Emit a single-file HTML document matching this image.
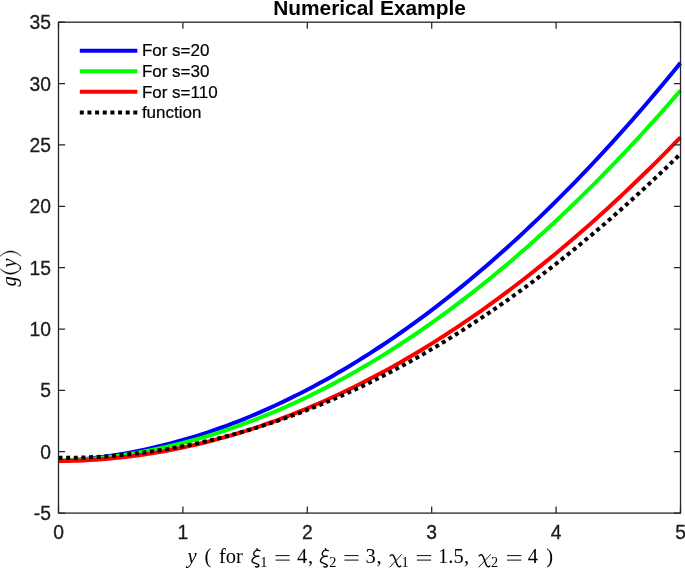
<!DOCTYPE html>
<html><head><meta charset="utf-8"><title>Numerical Example</title>
<style>html,body{margin:0;padding:0;background:#fff}svg{display:block;will-change:transform;font-family:"Liberation Sans",sans-serif}.ser text{font-family:"Liberation Serif",serif}</style></head>
<body>
<svg width="685" height="569" viewBox="0 0 685 569">
<rect x="0" y="0" width="685" height="569" fill="#ffffff"/>
<path d="M58.50 461.02 L64.72 460.67 L70.94 460.24 L77.16 459.74 L83.38 459.17 L89.60 458.52 L95.82 457.80 L102.04 457.01 L108.26 456.14 L114.48 455.20 L120.70 454.19 L126.92 453.10 L133.14 451.94 L139.36 450.71 L145.58 449.41 L151.80 448.03 L158.02 446.57 L164.24 445.05 L170.46 443.45 L176.68 441.77 L182.90 440.03 L189.12 438.21 L195.34 436.32 L201.56 434.35 L207.78 432.31 L214.00 430.20 L220.22 428.01 L226.44 425.76 L232.66 423.42 L238.88 421.02 L245.10 418.54 L251.32 415.99 L257.54 413.36 L263.76 410.66 L269.98 407.89 L276.20 405.04 L282.42 402.13 L288.64 399.13 L294.86 396.07 L301.08 392.93 L307.30 389.72 L313.52 386.43 L319.74 383.08 L325.96 379.64 L332.18 376.14 L338.40 372.56 L344.62 368.91 L350.84 365.18 L357.06 361.39 L363.28 357.52 L369.50 353.57 L375.72 349.55 L381.94 345.46 L388.16 341.30 L394.38 337.06 L400.60 332.75 L406.82 328.36 L413.04 323.91 L419.26 319.37 L425.48 314.77 L431.70 310.09 L437.92 305.34 L444.14 300.52 L450.36 295.62 L456.58 290.65 L462.80 285.61 L469.02 280.49 L475.24 275.30 L481.46 270.03 L487.68 264.70 L493.90 259.29 L500.12 253.80 L506.34 248.25 L512.56 242.62 L518.78 236.91 L525.00 231.13 L531.22 225.28 L537.44 219.36 L543.66 213.36 L549.88 207.29 L556.10 201.15 L562.32 194.93 L568.54 188.64 L574.76 182.28 L580.98 175.84 L587.20 169.33 L593.42 162.75 L599.64 156.10 L605.86 149.37 L612.08 142.56 L618.30 135.69 L624.52 128.74 L630.74 121.71 L636.96 114.62 L643.18 107.45 L649.40 100.21 L655.62 92.89 L661.84 85.50 L668.06 78.04 L674.28 70.50 L680.50 62.89" fill="none" stroke="#0000ff" stroke-width="4" stroke-linejoin="round"/>
<path d="M58.50 460.83 L64.72 460.60 L70.94 460.30 L77.16 459.93 L83.38 459.50 L89.60 458.99 L95.82 458.41 L102.04 457.76 L108.26 457.04 L114.48 456.25 L120.70 455.38 L126.92 454.45 L133.14 453.45 L139.36 452.38 L145.58 451.24 L151.80 450.03 L158.02 448.75 L164.24 447.40 L170.46 445.97 L176.68 444.48 L182.90 442.92 L189.12 441.29 L195.34 439.58 L201.56 437.81 L207.78 435.97 L214.00 434.05 L220.22 432.07 L226.44 430.02 L232.66 427.89 L238.88 425.70 L245.10 423.43 L251.32 421.10 L257.54 418.69 L263.76 416.22 L269.98 413.67 L276.20 411.06 L282.42 408.37 L288.64 405.62 L294.86 402.79 L301.08 399.90 L307.30 396.93 L313.52 393.89 L319.74 390.79 L325.96 387.61 L332.18 384.36 L338.40 381.04 L344.62 377.66 L350.84 374.20 L357.06 370.67 L363.28 367.07 L369.50 363.41 L375.72 359.67 L381.94 355.86 L388.16 351.98 L394.38 348.03 L400.60 344.01 L406.82 339.92 L413.04 335.76 L419.26 331.53 L425.48 327.23 L431.70 322.86 L437.92 318.42 L444.14 313.91 L450.36 309.33 L456.58 304.68 L462.80 299.96 L469.02 295.17 L475.24 290.31 L481.46 285.37 L487.68 280.37 L493.90 275.30 L500.12 270.16 L506.34 264.95 L512.56 259.66 L518.78 254.31 L525.00 248.89 L531.22 243.39 L537.44 237.83 L543.66 232.20 L549.88 226.49 L556.10 220.72 L562.32 214.88 L568.54 208.96 L574.76 202.98 L580.98 196.92 L587.20 190.80 L593.42 184.60 L599.64 178.34 L605.86 172.00 L612.08 165.60 L618.30 159.12 L624.52 152.57 L630.74 145.96 L636.96 139.27 L643.18 132.51 L649.40 125.69 L655.62 118.79 L661.84 111.82 L668.06 104.79 L674.28 97.68 L680.50 90.50" fill="none" stroke="#00ff00" stroke-width="4" stroke-linejoin="round"/>
<path d="M58.50 461.06 L64.72 460.99 L70.94 460.86 L77.16 460.66 L83.38 460.40 L89.60 460.07 L95.82 459.68 L102.04 459.22 L108.26 458.71 L114.48 458.12 L120.70 457.48 L126.92 456.77 L133.14 455.99 L139.36 455.15 L145.58 454.25 L151.80 453.28 L158.02 452.25 L164.24 451.16 L170.46 450.00 L176.68 448.78 L182.90 447.49 L189.12 446.14 L195.34 444.73 L201.56 443.25 L207.78 441.71 L214.00 440.10 L220.22 438.43 L226.44 436.70 L232.66 434.90 L238.88 433.04 L245.10 431.11 L251.32 429.12 L257.54 427.06 L263.76 424.95 L269.98 422.76 L276.20 420.52 L282.42 418.21 L288.64 415.84 L294.86 413.40 L301.08 410.90 L307.30 408.33 L313.52 405.70 L319.74 403.01 L325.96 400.25 L332.18 397.43 L338.40 394.54 L344.62 391.59 L350.84 388.58 L357.06 385.50 L363.28 382.36 L369.50 379.15 L375.72 375.88 L381.94 372.55 L388.16 369.15 L394.38 365.69 L400.60 362.17 L406.82 358.58 L413.04 354.92 L419.26 351.21 L425.48 347.43 L431.70 343.58 L437.92 339.67 L444.14 335.70 L450.36 331.66 L456.58 327.56 L462.80 323.39 L469.02 319.17 L475.24 314.87 L481.46 310.52 L487.68 306.09 L493.90 301.61 L500.12 297.06 L506.34 292.45 L512.56 287.77 L518.78 283.03 L525.00 278.23 L531.22 273.36 L537.44 268.42 L543.66 263.43 L549.88 258.37 L556.10 253.24 L562.32 248.05 L568.54 242.80 L574.76 237.48 L580.98 232.10 L587.20 226.66 L593.42 221.15 L599.64 215.58 L605.86 209.94 L612.08 204.24 L618.30 198.48 L624.52 192.65 L630.74 186.76 L636.96 180.80 L643.18 174.78 L649.40 168.70 L655.62 162.55 L661.84 156.34 L668.06 150.06 L674.28 143.72 L680.50 137.32" fill="none" stroke="#ff0000" stroke-width="4" stroke-linejoin="round"/>
<path d="M58.50 457.86 L64.72 457.86 L70.94 457.80 L77.16 457.68 L83.38 457.49 L89.60 457.25 L95.82 456.94 L102.04 456.57 L108.26 456.14 L114.48 455.65 L120.70 455.09 L126.92 454.48 L133.14 453.80 L139.36 453.07 L145.58 452.27 L151.80 451.41 L158.02 450.49 L164.24 449.50 L170.46 448.46 L176.68 447.35 L182.90 446.18 L189.12 444.96 L195.34 443.67 L201.56 442.31 L207.78 440.90 L214.00 439.43 L220.22 437.89 L226.44 436.29 L232.66 434.63 L238.88 432.91 L245.10 431.13 L251.32 429.29 L257.54 427.39 L263.76 425.42 L269.98 423.39 L276.20 421.30 L282.42 419.15 L288.64 416.94 L294.86 414.67 L301.08 412.34 L307.30 409.94 L313.52 407.48 L319.74 404.97 L325.96 402.39 L332.18 399.74 L338.40 397.04 L344.62 394.28 L350.84 391.45 L357.06 388.57 L363.28 385.62 L369.50 382.61 L375.72 379.54 L381.94 376.40 L388.16 373.21 L394.38 369.95 L400.60 366.64 L406.82 363.26 L413.04 359.82 L419.26 356.32 L425.48 352.76 L431.70 349.13 L437.92 345.45 L444.14 341.70 L450.36 337.89 L456.58 334.02 L462.80 330.09 L469.02 326.10 L475.24 322.05 L481.46 317.93 L487.68 313.76 L493.90 309.52 L500.12 305.22 L506.34 300.86 L512.56 296.44 L518.78 291.95 L525.00 287.41 L531.22 282.80 L537.44 278.13 L543.66 273.40 L549.88 268.61 L556.10 263.76 L562.32 258.85 L568.54 253.87 L574.76 248.84 L580.98 243.74 L587.20 238.58 L593.42 233.36 L599.64 228.08 L605.86 222.73 L612.08 217.33 L618.30 211.86 L624.52 206.34 L630.74 200.75 L636.96 195.10 L643.18 189.39 L649.40 183.61 L655.62 177.78 L661.84 171.88 L668.06 165.92 L674.28 159.91 L680.50 153.82" fill="none" stroke="#000000" stroke-width="4" stroke-dasharray="4 3.65" stroke-linejoin="round"/>
<rect x="58.50" y="22.20" width="622.00" height="490.90" fill="none" stroke="#262626" stroke-width="1.3"/>
<path d="M58.50 513.10V506.50M58.50 22.20V28.80M182.90 513.10V506.50M182.90 22.20V28.80M307.30 513.10V506.50M307.30 22.20V28.80M431.70 513.10V506.50M431.70 22.20V28.80M556.10 513.10V506.50M556.10 22.20V28.80M680.50 513.10V506.50M680.50 22.20V28.80M58.50 513.10H65.10M680.50 513.10H673.90M58.50 451.74H65.10M680.50 451.74H673.90M58.50 390.38H65.10M680.50 390.38H673.90M58.50 329.01H65.10M680.50 329.01H673.90M58.50 267.65H65.10M680.50 267.65H673.90M58.50 206.29H65.10M680.50 206.29H673.90M58.50 144.92H65.10M680.50 144.92H673.90M58.50 83.56H65.10M680.50 83.56H673.90M58.50 22.20H65.10M680.50 22.20H673.90" fill="none" stroke="#262626" stroke-width="1.25"/>
<g font-size="19.3" fill="#1c1c1c" stroke="#1c1c1c" stroke-width="0.3">
<text x="58.50" y="538.7" text-anchor="middle">0</text>
<text x="182.90" y="538.7" text-anchor="middle">1</text>
<text x="307.30" y="538.7" text-anchor="middle">2</text>
<text x="431.70" y="538.7" text-anchor="middle">3</text>
<text x="556.10" y="538.7" text-anchor="middle">4</text>
<text x="680.50" y="538.7" text-anchor="middle">5</text>
<text x="50.9" y="520.10" text-anchor="end">-5</text>
<text x="50.9" y="458.74" text-anchor="end">0</text>
<text x="50.9" y="397.38" text-anchor="end">5</text>
<text x="50.9" y="336.01" text-anchor="end">10</text>
<text x="50.9" y="274.65" text-anchor="end">15</text>
<text x="50.9" y="213.29" text-anchor="end">20</text>
<text x="50.9" y="151.92" text-anchor="end">25</text>
<text x="50.9" y="90.56" text-anchor="end">30</text>
<text x="50.9" y="29.20" text-anchor="end">35</text>
</g>
<text x="369.5" y="14.8" text-anchor="middle" font-size="20.9" font-weight="bold" fill="#000">Numerical Example</text>
<path d="M79.8 50.65H137.3" stroke="#0000ff" stroke-width="4" fill="none"/>
<path d="M79.8 71.20H137.3" stroke="#00ff00" stroke-width="4" fill="none"/>
<path d="M79.8 91.80H137.3" stroke="#ff0000" stroke-width="4" fill="none"/>
<path d="M79.8 112.50H137.3" stroke="#000" stroke-width="4" stroke-dasharray="4 3.65" fill="none"/>
<g font-size="17" fill="#000" stroke="#000" stroke-width="0.2">
<text x="141.9" y="56.35">For s=20</text>
<text x="141.9" y="76.90">For s=30</text>
<text x="141.9" y="97.50">For s=110</text>
<text x="141.9" y="118.20">function</text>
</g>
<g class="ser" font-size="20.5" fill="#000">
<text x="187.4" y="563.1" font-style="italic">y</text>
<text x="204.6" y="563.1">(</text>
<text x="219.0" y="563.1">for</text>
<path transform="translate(251.5 563.1)" d="M5.5 -14.4L6.3 -12.8M8.3 -12.4C6.8 -13 5.1 -13.2 4 -12.4C2.4 -11.2 1.8 -9 2.8 -7.7C3.7 -6.7 5.5 -6.9 7.3 -6.9M7.3 -6.9C4.3 -7 1.9 -5.7 0.8 -3.5C-0.1 -1.5 1.3 -0.5 3.9 0.2C6.1 0.8 7.7 1.5 7.4 2.8C7.1 4 5.3 4.2 3.9 3.6" fill="none" stroke="#000" stroke-width="1.35" stroke-linecap="round" stroke-linejoin="round"/>
<text x="260.2" y="566.6" font-size="14.3">1</text>
<path d="M275.5 555.6h14.2M275.5 560.1h14.2" fill="none" stroke="#000" stroke-width="0.95"/>
<text x="296.9" y="563.1">4</text>
<text x="308.1" y="563.1">,</text>
<path transform="translate(319.9 563.1)" d="M5.5 -14.4L6.3 -12.8M8.3 -12.4C6.8 -13 5.1 -13.2 4 -12.4C2.4 -11.2 1.8 -9 2.8 -7.7C3.7 -6.7 5.5 -6.9 7.3 -6.9M7.3 -6.9C4.3 -7 1.9 -5.7 0.8 -3.5C-0.1 -1.5 1.3 -0.5 3.9 0.2C6.1 0.8 7.7 1.5 7.4 2.8C7.1 4 5.3 4.2 3.9 3.6" fill="none" stroke="#000" stroke-width="1.35" stroke-linecap="round" stroke-linejoin="round"/>
<text x="329.3" y="566.6" font-size="14.3">2</text>
<path d="M344.4 555.6h14.2M344.4 560.1h14.2" fill="none" stroke="#000" stroke-width="0.95"/>
<text x="365.6" y="563.1">3</text>
<text x="376.6" y="563.1">,</text>
<path transform="translate(390.0 563.1)" d="M0.2 -7.3C0.9 -8.3 2.2 -8.6 3.2 -7.8C4.3 -6.9 4.9 -4.6 5.7 -2.1C6.5 0.4 7.3 2.3 8.2 3.2C9 3.9 10.2 3.8 10.7 2.9" fill="none" stroke="#000" stroke-width="1.45" stroke-linecap="round" stroke-linejoin="round"/>
<path transform="translate(390.0 563.1)" d="M11.6 -8.6L0 3.9" fill="none" stroke="#000" stroke-width="0.9" stroke-linecap="round"/>
<text x="401.5" y="566.6" font-size="14.3">1</text>
<path d="M416.9 555.6h14.2M416.9 560.1h14.2" fill="none" stroke="#000" stroke-width="0.95"/>
<text x="438.1" y="563.1">1.5</text>
<text x="463.9" y="563.1">,</text>
<path transform="translate(479.0 563.1)" d="M0.2 -7.3C0.9 -8.3 2.2 -8.6 3.2 -7.8C4.3 -6.9 4.9 -4.6 5.7 -2.1C6.5 0.4 7.3 2.3 8.2 3.2C9 3.9 10.2 3.8 10.7 2.9" fill="none" stroke="#000" stroke-width="1.45" stroke-linecap="round" stroke-linejoin="round"/>
<path transform="translate(479.0 563.1)" d="M11.6 -8.6L0 3.9" fill="none" stroke="#000" stroke-width="0.9" stroke-linecap="round"/>
<text x="490.9" y="566.6" font-size="14.3">2</text>
<path d="M507.1 555.6h14.2M507.1 560.1h14.2" fill="none" stroke="#000" stroke-width="0.95"/>
<text x="527.7" y="563.1">4</text>
<text x="546.2" y="563.1">)</text>
</g>
<g class="ser" font-size="20.5" fill="#000" transform="translate(16 286.4) rotate(-90)">
<text x="0" y="0" font-style="italic">g</text><text x="18.9" y="0" font-style="italic">y</text>
</g>
<path d="M0.2 256.2C4 252.3 7.5 250.9 10.7 250.9C13.9 250.9 17.4 252.3 21.2 256.2C17.4 253.1 13.9 252.1 10.7 252.1C7.5 252.1 4 253.1 0.2 256.2Z" fill="#000" stroke="#000" stroke-width="0.4" stroke-linejoin="round"/>
<path d="M0.2 268.8C4 272.8 7.5 274.3 10.7 274.3C13.9 274.3 17.4 272.8 21.2 268.8C17.4 272 13.9 273.1 10.7 273.1C7.5 273.1 4 272 0.2 268.8Z" fill="#000" stroke="#000" stroke-width="0.4" stroke-linejoin="round"/>
</svg>
</body></html>
